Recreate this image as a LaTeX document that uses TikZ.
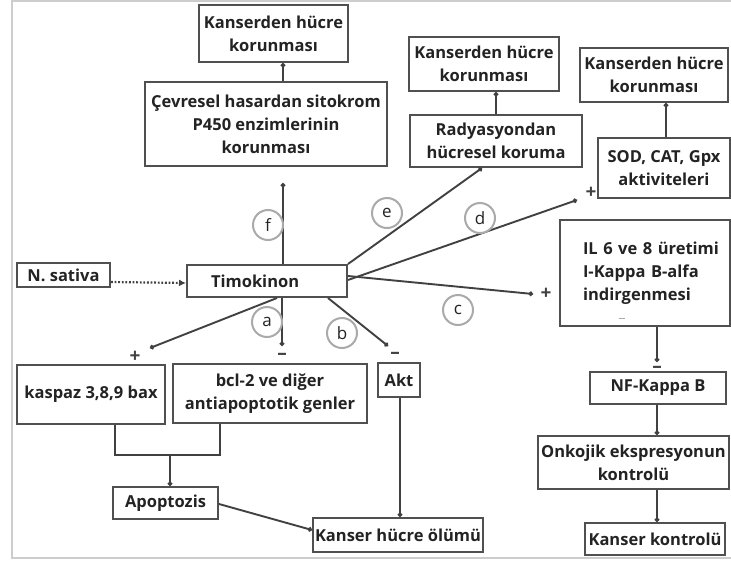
\documentclass[tikz,border=0pt]{standalone}
\usepackage{fontspec}
\setmainfont{Open Sans}
\usetikzlibrary{arrows.meta}
\definecolor{boxgray}{RGB}{80,80,80}
\definecolor{linegray}{RGB}{65,65,65}
\definecolor{txt}{RGB}{35,35,35}
\definecolor{ringgray}{RGB}{170,170,170}
\definecolor{framegray}{RGB}{205,205,205}
\tikzset{
  box/.style={draw=boxgray, line width=2pt, fill=white, text=txt, align=center,
    font=\fontsize{16.5}{23}\selectfont\bfseries, inner sep=1pt},
  arr/.style={draw=linegray, line width=1.9pt, -{Circle[length=4.5pt]}},
  plain/.style={draw=linegray, line width=1.9pt},
  ring/.style={circle, draw=ringgray, line width=2pt, fill=white, minimum size=30pt,
    inner sep=0pt, text=txt, font=\fontsize{17}{17}\selectfont},
  sign/.style={text=linegray, inner sep=0pt, font=\fontsize{19}{19}\selectfont\bfseries},
}
\begin{document}
\begin{tikzpicture}[x=1pt,y=-1pt]
\useasboundingbox (0,0) rectangle (731,565);
\begin{scope}
\clip (0,0) rectangle (731,565);
\draw[framegray, line width=1.4pt] (12,1) rectangle (760,558);
\end{scope}

% boxes
\node[box, minimum width=149pt, minimum height=57pt] (K1) at (273.5,33.5) {Kanserden hücre\\korunması};
\node[box, minimum width=242pt, minimum height=84pt] (Cev) at (266,124) {Çevresel hasardan sitokrom\\P450 enzimlerinin\\korunması};
\node[box, minimum width=150pt, minimum height=54pt] (K2) at (484,64) {Kanserden hücre\\korunması};
\node[box, minimum width=172pt, minimum height=52pt] (Rad) at (496,141) {Radyasyondan\\hücresel koruma};
\node[box, minimum width=148pt, minimum height=54pt] (K3) at (654,75) {Kanserden hücre\\korunması};
\node[box, minimum width=132pt, minimum height=60pt] (SOD) at (664,168) {SOD, CAT, Gpx\\aktiviteleri};
\node[box, minimum width=170pt, minimum height=106pt, align=left, text width=164pt] (IL) at (645,273) {\hspace*{20pt}IL 6 ve 8 üretimi\\\hspace*{20pt}I-Kappa B-alfa\\\hspace*{20pt}indirgenmesi};
\node[box, minimum width=93pt, minimum height=24pt] (NS) at (63.5,275) {N. sativa};
\node[box, minimum width=160pt, minimum height=32pt, text width=156pt, align=left] (Tim) at (267,281) {\hspace*{22pt}Timokinon};
\node[box, minimum width=148pt, minimum height=59pt] (Kas) at (91,394.5) {kaspaz 3,8,9 bax};
\node[box, minimum width=194pt, minimum height=59pt] (Bcl) at (270,393.5) {bcl-2 ve diğer\\antiapoptotik genler};
\node[box, minimum width=42pt, minimum height=34pt] (Akt) at (399,380) {Akt};
\node[box, minimum width=105pt, minimum height=32pt] (Apo) at (165.5,503) {Apoptozis};
\node[box, minimum width=170pt, minimum height=34pt] (KHO) at (398,535) {Kanser hücre ölümü};
\node[box, minimum width=136pt, minimum height=32pt] (NF) at (658,388) {NF-Kappa B};
\node[box, minimum width=191pt, minimum height=53pt] (Onk) at (633.5,462.5) {Onkojik ekspresyonun\\kontrolü};
\node[box, minimum width=140pt, minimum height=32pt] (KK) at (655,539) {Kanser kontrolü};

% faint mark inside IL box
\draw[ringgray, line width=0.9pt] (619,318) -- (625,318);

% free ends
\coordinate (fEnd) at (283,183);
\coordinate (dEnd) at (577,200);
\coordinate (cEnd) at (533,294);
\coordinate (aEnd) at (282,346);
\coordinate (kEnd) at (150,348);
\coordinate (bEnd) at (388,346);
\coordinate (nfEnd) at (657,362);
\coordinate (jn) at (170,455);

% connectors
\draw[arr] ([xshift=17pt]Cev.north) -- ([xshift=17pt]Cev.north |- K1.south);
\draw[arr] ([xshift=16pt]Tim.north) -- (fEnd);
\draw[arr] (Rad.north) -- (Rad.north |- K2.south);
\draw[arr] ([xshift=2pt]SOD.north) -- ([xshift=2pt]SOD.north |- K3.south);
\draw[arr] (Tim.north east) -- ([xshift=-14pt]Rad.south);
\draw[arr] ([yshift=1pt]Tim.east) -- (dEnd);
\draw[arr] ([yshift=-12pt]Tim.north east) -- (cEnd);
\draw[arr] ([xshift=15pt]Tim.south) -- (aEnd);
\draw[arr] ([xshift=10pt]Tim.south) -- (kEnd);
\draw[arr] ([xshift=61pt]Tim.south) -- (bEnd);

% N. sativa dotted
\draw[draw=linegray, line width=2.2pt, dash pattern=on 1.8pt off 1.8pt, -{Latex[length=7pt,width=7pt]}]
  ([yshift=-7pt]NS.east) -- ([yshift=-1pt]Tim.west |- 0,282);

% signs
\node[sign] (sd) at (591,193) {+};
\node[sign] (sc) at (546,294) {+};
\node[sign] (sa) at (282,356) {–};
\node[sign] (sk) at (135,357) {+};
\node[sign] (sb) at (395,355) {–};
\node[sign] (snf) at (657,369) {–};

% rings
\node[ring] (rf) at (268,225) {f};
\node[ring] (re) at (387,213) {e};
\node[ring] (rd) at (480,218) {d};
\node[ring] (rc) at (458,310) {c};
\node[ring] (ra) at (267,322) {a};
\node[ring] (rb) at (342,333) {b};

% apoptosis junction
\draw[plain] ([xshift=24pt]Kas.south) |- (jn) -| ([xshift=-50pt]Bcl.south);
\draw[arr] (jn) -- (Apo.north -| jn);
\draw[arr] ([yshift=-1pt]Apo.east) -- ([yshift=5pt]KHO.west);
\draw[arr] ([xshift=1pt]Akt.south) -- ([xshift=1pt]Akt.south |- KHO.north);

% right column
\draw[arr] ([xshift=12pt]IL.south) -- (nfEnd);
\draw[arr] ([xshift=-1pt]NF.south) -- ([xshift=-1pt]NF.south |- Onk.north);
\draw[arr] ([xshift=2pt]KK.north |- Onk.south) -- ([xshift=2pt]KK.north);
\end{tikzpicture}
\end{document}
